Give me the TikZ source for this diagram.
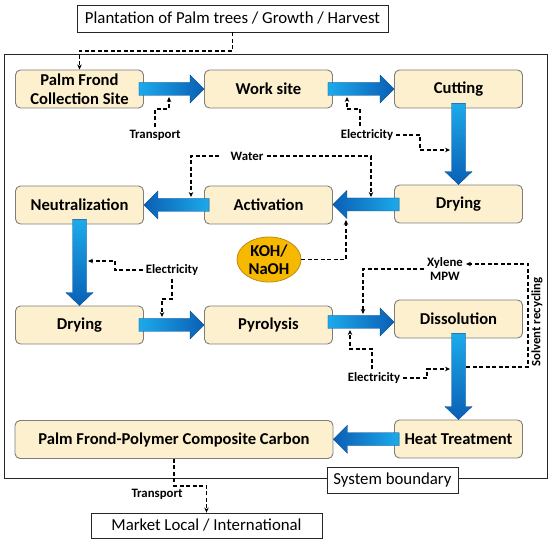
\documentclass[tikz,border=0pt]{standalone}
\usepackage{fontspec}
\setmainfont{Carlito}
\usetikzlibrary{calc,arrows.meta,shapes.geometric}
\definecolor{cream}{RGB}{253,240,206}
\definecolor{boxline}{RGB}{125,125,125}
\definecolor{arrL}{RGB}{28,170,235}
\definecolor{arrD}{RGB}{10,95,180}
\definecolor{kohfill}{RGB}{247,185,0}
\definecolor{kohline}{RGB}{190,140,20}
\tikzset{
 procbox/.style={draw=boxline, fill=cream, rounded corners=5pt, line width=0.9pt, minimum width=128pt, minimum height=38pt, align=center, font=\fontsize{16.6}{19}\selectfont\bfseries, inner sep=1pt},
 plainbox/.style={draw=black!85, line width=0.8pt, fill=white, font=\fontsize{16.8}{18}\selectfont, inner sep=0pt},
 lbl/.style={font=\fontsize{12.8}{14}\selectfont\bfseries, inner sep=3pt, align=center},
 dl/.style={dash pattern=on 4pt off 2.5pt, line width=1.2pt, -{Stealth[length=5pt,width=4.5pt]}},
 barrow/.style={draw=arrD!80!black, line width=0.4pt},
}
\newcommand\ArrR[2]{\shade[barrow, left color=arrL, right color=arrD] let \p1=(#1.east), \p2=(#2.west), \p3=($(\p1)!0.5!(\p2)$) in (\x1-5pt,\y3+6.5pt) -- (\x2-14pt,\y3+6.5pt) -- (\x2-14pt,\y3+14pt) -- (\x2,\y3) -- (\x2-14pt,\y3-14pt) -- (\x2-14pt,\y3-6.5pt) -- (\x1-5pt,\y3-6.5pt) -- cycle;}
\newcommand\ArrL[2]{\shade[barrow, left color=arrD, right color=arrL] let \p1=(#1.west), \p2=(#2.east), \p3=($(\p1)!0.5!(\p2)$) in (\x1+5pt,\y3+6.5pt) -- (\x2+14pt,\y3+6.5pt) -- (\x2+14pt,\y3+14pt) -- (\x2,\y3) -- (\x2+14pt,\y3-14pt) -- (\x2+14pt,\y3-6.5pt) -- (\x1+5pt,\y3-6.5pt) -- cycle;}
\newcommand\ArrD[2]{\shade[barrow, top color=arrL, bottom color=arrD] let \p1=(#1.south), \p2=(#2.north), \p3=($(\p1)!0.5!(\p2)$) in (\x3-7pt,\y1+5pt) -- (\x3-7pt,\y2+13pt) -- (\x3-13.5pt,\y2+13pt) -- (\x3,\y2) -- (\x3+13.5pt,\y2+13pt) -- (\x3+7pt,\y2+13pt) -- (\x3+7pt,\y1+5pt) -- cycle;}
\begin{document}
\begin{tikzpicture}[x=1pt,y=-1pt]
\useasboundingbox (0,0) rectangle (550,545);
% system boundary
\draw[line width=0.9pt, black!85] (4,54) rectangle (547,478);
\node[plainbox, minimum width=131pt, minimum height=26pt] (sb) at (392.5,480) {System boundary};
\node[plainbox, minimum width=311pt, minimum height=27pt] (plant) at (232.5,18.5) {Plantation of Palm trees / Growth / Harvest};
\node[plainbox, minimum width=231pt, minimum height=25pt] (mk) at (206.5,525.5) {Market Local / International};
% process boxes
\node[procbox] (b1) at (79.5,89) {Palm Frond\\Collection Site};
\node[procbox] (b2) at (268.5,89) {Work site};
\node[procbox] (b3) at (458.5,89) {Cutting};
\node[procbox] (c1) at (79.5,205) {Neutralization};
\node[procbox] (c2) at (268.5,205) {Activation};
\node[procbox] (c3) at (458.5,204) {Drying};
\node[procbox] (d1) at (79.5,325) {Drying};
\node[procbox] (d2) at (268.5,325) {Pyrolysis};
\node[procbox] (d3) at (458.5,319) {Dissolution};
\node[procbox, minimum width=318pt] (e1b) at (174,439.5) {Palm Frond-Polymer Composite Carbon};
\node[procbox] (e2b) at (458.5,439) {Heat Treatment};
\node[ellipse, draw=kohline, fill=kohfill, line width=0.8pt, minimum width=64pt, minimum height=45pt, inner sep=0pt, align=center, font=\fontsize{16.6}{18}\selectfont\bfseries] (koh) at (269,259.5) {KOH/\\NaOH};
% block arrows
\ArrR{b1}{b2}
\ArrR{b2}{b3}
\ArrD{b3}{c3}
\ArrL{c3}{c2}
\ArrL{c2}{c1}
\ArrD{c1}{d1}
\ArrR{d1}{d2}
\ArrR{d2}{d3}
\ArrD{d3}{e2b}
\ArrL{e2b}{e1b}
% labels
\node[lbl] (t1) at (155,135) {Transport};
\node[lbl] (el1) at (367,135) {Electricity};
\node[lbl] (w) at (247,156) {Water};
\node[lbl] (el2) at (172,270) {Electricity};
\node[lbl] (xy) at (445,269) {Xylene\\MPW};
\node[lbl] (el3) at (374,378) {Electricity};
\node[lbl] (t2) at (157,494) {Transport};
\node[lbl, rotate=90] (sr) at (537,322) {Solvent recycling};
% target coordinates
\coordinate (j1) at (79.5,51);
\coordinate (a1b) at (169,97);
\coordinate (a2b) at (347,97);
\coordinate (v1l) at (450,150);
\coordinate (a3t) at (191,197);
\coordinate (a2t) at (371,197);
\coordinate (a2h) at (346,220);
\coordinate (v2r) at (88,261);
\coordinate (a4t) at (162,317);
\coordinate (a5t) at (363,314);
\coordinate (a5b) at (350,330);
\coordinate (v3l) at (450,369);
\coordinate (v3r) at (466,367);
% dashed connectors
\draw[dl] (plant.south) |- (j1) -- (b1.north);
\draw[dl] (t1.north) |- ([yshift=-12pt]a1b) -- (a1b);
\draw[dl] ([xshift=-7pt]el1.north) |- ([yshift=-12pt]a2b) -- (a2b);
\draw[dl] (el1.east) -| ([xshift=-30pt]v1l) -- (v1l);
\draw[dl] ([xshift=-8pt]w.west) -| (a3t);
\draw[dl] (w.east) -| (a2t);
\draw[dl] (koh.east) -| (a2h);
\draw[dl] (el2.west) -| ([xshift=27pt]v2r) -- (v2r);
\draw[dl] (el2.south) |- ([yshift=18pt]a4t) -- (a4t);
\draw[dl] (xy.west) -| (a5t);
\draw[dl] (v3r) -- ++(62,0) |- ([yshift=5pt]xy.east);
\draw[dl] ([xshift=-2pt]el3.north) |- ([yshift=-19pt]a5b) -- (a5b);
\draw[dl] (el3.east) -| ([xshift=-23pt]v3l) -- (v3l);
\draw[dl] (e1b.south) -- ++(0,27) -| (mk.north);
\end{tikzpicture}
\end{document}
